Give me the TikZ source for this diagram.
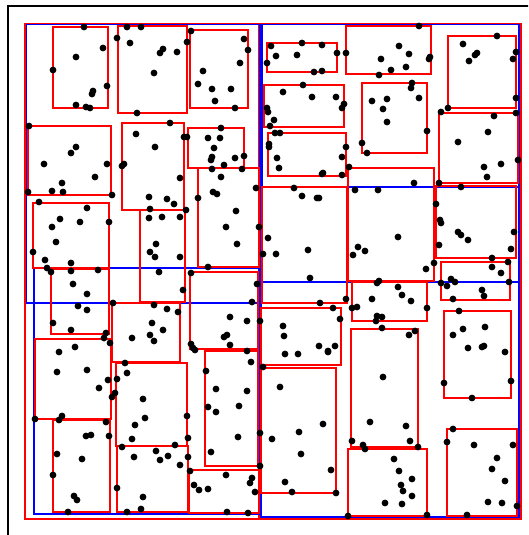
\documentclass[tikz,border=0pt]{standalone}
\begin{document}
\begin{tikzpicture}[x=1pt,y=-1pt,
		leaf/.style={draw=red,line width=1.8pt},
		group/.style={draw=blue,line width=1.8pt},
		root/.style={draw=red,line width=1.8pt}]
		\clip (0,0) rectangle (528,535);
		\draw[line width=1.3pt] (8,545)--(8,6)--(545,6);
		\draw[root] (25,23.5) rectangle (260,519);
		\draw[root] (259,23.5) rectangle (521,519);
		\draw[group] (26.5,24.5) rectangle (260,303);
		\draw[group] (34,268) rectangle (259,514);
		\draw[group] (262,24.5) rectangle (519,282);
		\draw[group] (261,187) rectangle (519,517);
		\foreach \a/\b/\c/\d in {53/27/108/108, 118/26/187/113, 190/30/248/108,
			28/126/111/195, 122/123/184/210, 188/128/244/168, 198/168/259/267,
			33/203/109/268, 140/210/185/302, 51/269/109/334, 190/272/258/349,
			112/303/180/362, 35/339/111/419, 116/363/187/446, 205/351/258/466,
			53/420/110/512, 117/446/188/512, 189/470/259/513}
		\draw[leaf] (\a,\b) rectangle (\c,\d);
		\foreach \a/\b/\c/\d in {267/43/337/72, 264/85/344/127, 268/133/346/176,
			346/26/431/74, 362/83/427/153, 448/36/516/108, 439/113/518/183,
			348/168/434/281, 262/187/347/303, 436/186/516/258, 441/262/510/300,
			352/282/427/321, 351/329/418/447, 444/311/511/398, 261/308/341/365,
			261/368/336/493, 348/449/427/516, 447/429/517/516}
		\draw[leaf] (\a,\b) rectangle (\c,\d);
		\foreach \x/\y in {84/27,127/27,141/27,117/38,130/43,103/48,76/57,160/53,163/49,177/52,
			53/70,154/73,107/86,93/91,92/94,76/105,86/107,90/108,137/113,29/126,170/123,
			136/134,76/147,71/153,155/147,44/164,107/164,124/164,122/166,95/177,
			191/31,187/42,244/39,248/50,240/63,203/71,198/84,212/89,231/89,215/101,235/108,
			271/46,302/43,322/45,276/56,297/55,337/53,346/53,267/63,314/72,322/71,303/85,
			283/92,312/97,336/97,267/108,268/112,342/108,344/104,274/120,270/126,221/128,
			208/138,220/138,214/148,212/157,211/160,235/158,244/156,224/165,212/169,187/137,
			184/137,180/178,242/169,221/177,275/133,280/133,269/144,269/147,346/147,277/158,
			279/168,342/157,349/167,322/174,323/173,342/175,
			419/26,399/46,409/54,381/59,391/70,406/67,379/75,430/57,429/59,497/36,463/44,
			477/53,475/55,469/61,516/52,513/59,412/83,411/88,372/101,387/99,383/109,419/98,
			387/122,427/131,362/143,367/153,516/98,448/108,441/112,494/116,516/113,488/132,
			458/142,484/167,501/164,487/177,518/160,
			62/183,52/191,63/192,28/192,112/195,39/202,87/208,60/219,52/227,80/222,109/222,
			56/242,33/252,45/260,71/263,47/268,51/272,71/271,98/270,73/284,87/294,78/306,
			87/310,53/323,71/330,106/333,104/338,110/343,59/352,75/347,149/197,167/199,
			174/204,150/209,149/218,162/217,180/217,156/244,150/252,155/257,180/257,159/272,
			113/303,154/305,167/309,178/312,152/323,163/330,150/335,154/341,132/338,
			256/188,213/192,217/194,198/198,236/211,226/227,259/227,237/244,186/210,208/267,
			191/273,257/284,183/290,252/302,230/317,247/321,260/321,227/335,224/337,230/345,
			191/344,193/348,247/351,294/188,302/196,317/198,319/198,268/238,263/254,276/254,
			308/250,310/278,320/303,333/308,346/299,352/308,340/319,283/326,284/336,319/346,
			328/351,335/346,353/255,285/354,298/354,
			414/183,355/190,378/190,439/183,461/187,436/204,440/220,441/223,398/237,358/247,
			365/251,458/232,461/235,468/240,514/232,439/245,511/249,492/258,492/267,501/273,
			508/262,434/263,426/269,379/281,377/283,398/287,402/295,411/301,372/299,357/307,
			427/308,451/279,447/286,455/282,441/283,509/282,482/290,484/296,453/299,459/311,
			377/316,382/317,376/321,382/328,409/335,415/331,463/329,485/327,453/335,468/348,
			482/347,484/346,505/352,
			125/363,127/373,57/372,87/370,108/380,99/388,117/379,115/393,112/397,143/399,
			145/418,135/425,62/416,59/420,35/419,106/422,86/436,91/435,109/436,132/439,
			122/447,175/445,57/454,82/459,134/457,156/451,160/460,168/456,180/465,53/475,
			117/488,143/497,74/496,77/500,68/512,127/512,141/509,
			195/350,251/362,263/367,206/371,216/389,247/391,208/407,216/412,239/406,187/416,
			188/438,238/437,260/433,211/452,188/457,190/471,226/475,252/478,250/483,194/485,
			199/490,208/489,255/492,227/512,248/513,328/352,280/387,323/424,299/432,272/439,
			301/454,331/470,285/482,292/492,336/493,348/516,260/466,
			383/377,444/383,511/381,472/398,370/422,406/426,352/441,363/445,365/449,410/441,
			418/447,453/429,447/442,474/445,513/445,497/458,492/469,505/481,394/459,399/471,
			412/479,401/485,403/491,412/496,385/503,402/504,488/502,502/503,517/506,427/515,
			467/515}
		\fill (\x,\y) circle (3.4pt);
	\end{tikzpicture}
\end{document}
